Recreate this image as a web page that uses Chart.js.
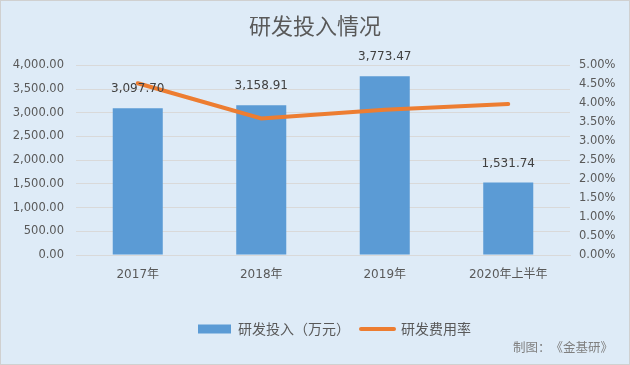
<!DOCTYPE html>
<html><head><meta charset="utf-8">
<script src="https://cdn.jsdelivr.net/npm/chart.js@4"></script>
<style>html,body{margin:0;padding:0;background:#DEEBF7}#wrap{width:630px;height:365px;position:relative}canvas{display:block}</style>
</head><body><div id="wrap"><canvas id="c" width="630" height="365"></canvas></div>
<script>
const chartTitle = '研发投入情况';
const creditParts = ['制图：', '《金基研》'];
const categories = ['2017年', '2018年', '2019年', '2020年上半年'];
const seriesNames = ['研发投入（万元）', '研发费用率'];
const rdInvestment = [3097.70, 3158.91, 3773.47, 1531.74];
const rdExpenseRate = [4.53, 3.60, 3.83, 3.98];
const leftTicks = [0, 500, 1000, 1500, 2000, 2500, 3000, 3500, 4000];
const rightTicks = [0, 0.5, 1, 1.5, 2, 2.5, 3, 3.5, 4, 4.5, 5];

const NUM_FONT = '"DejaVu Sans", "Noto Sans CJK SC", sans-serif';
const CJK_FONT = '"Noto Sans CJK SC", "DejaVu Sans", sans-serif';
const BAR_COLOR = '#5B9BD5';
const LINE_COLOR = '#ED7D31';
const TEXT_COLOR = '#595959';

function fmt(v) {
  const parts = v.toFixed(2).split('.');
  return parts[0].replace(/\B(?=(\d{3})+(?!\d))/g, ',') + '.' + parts[1];
}

const bgPlugin = {
  id: 'bg',
  beforeDraw(chart) {
    const ctx = chart.ctx;
    ctx.save();
    ctx.fillStyle = '#DEEBF7';
    ctx.fillRect(0, 0, chart.width, chart.height);
    ctx.strokeStyle = '#D0D0D0';
    ctx.lineWidth = 1;
    ctx.strokeRect(0.5, 0.5, chart.width - 1, chart.height - 1);
    ctx.restore();
  },
  afterDraw(chart) {
    const ctx = chart.ctx;
    ctx.save();
    ctx.font = '12.5px ' + CJK_FONT;
    ctx.fillStyle = '#7F7F7F';
    ctx.textAlign = 'left';
    ctx.textBaseline = 'middle';
    ctx.fillText(creditParts[0], 513, 347);
    ctx.fillText(creditParts[1], 550.5, 347);
    ctx.restore();
  }
};

const labelPlugin = {
  id: 'dataLabels',
  afterDatasetsDraw(chart) {
    const meta = chart.getDatasetMeta(0);
    const ctx = chart.ctx;
    ctx.save();
    ctx.font = '12px ' + NUM_FONT;
    ctx.fillStyle = '#404040';
    ctx.textAlign = 'center';
    ctx.textBaseline = 'middle';
    meta.data.forEach((el, i) => {
      ctx.fillText(fmt(rdInvestment[i]), el.x, el.y - 19);
    });
    ctx.restore();
  }
};

const legendShift = {
  id: 'legendShift',
  afterLayout(chart) {
    if (chart.legend) {
      chart.legend.left += 19.5;
      chart.legend.right += 19.5;
    }
  }
};

new Chart(document.getElementById('c'), {
  data: {
    labels: categories,
    datasets: [
      {
        type: 'bar',
        label: seriesNames[0],
        data: rdInvestment,
        backgroundColor: BAR_COLOR,
        yAxisID: 'yL',
        barPercentage: 0.405,
        categoryPercentage: 1,
        order: 2
      },
      {
        type: 'line',
        label: seriesNames[1],
        data: rdExpenseRate,
        borderColor: LINE_COLOR,
        backgroundColor: LINE_COLOR,
        borderWidth: 4,
        borderCapStyle: 'round',
        pointRadius: 0,
        tension: 0,
        yAxisID: 'yR',
        order: 1
      }
    ]
  },
  options: {
    responsive: false,
    animation: false,
    devicePixelRatio: 1,
    layout: { padding: { left: 0, right: 0, top: 0, bottom: 19 } },
    plugins: {
      tooltip: { enabled: false },
      title: {
        display: true,
        text: chartTitle,
        color: TEXT_COLOR,
        font: { family: CJK_FONT, size: 22, weight: 'normal' },
        padding: { top: 12.5, bottom: 26.5 }
      },
      legend: {
        position: 'bottom',
        labels: {
          font: { family: CJK_FONT, size: 14 },
          color: TEXT_COLOR,
          usePointStyle: true,
          pointStyleWidth: 33,
          boxHeight: 9,
          padding: 11,
          generateLabels: () => [
            { text: seriesNames[0], fillStyle: BAR_COLOR, strokeStyle: BAR_COLOR, lineWidth: 0, pointStyle: 'rect', datasetIndex: 0, fontColor: TEXT_COLOR },
            { text: seriesNames[1], fillStyle: LINE_COLOR, strokeStyle: LINE_COLOR, lineWidth: 4, lineCap: 'round', pointStyle: 'line', datasetIndex: 1, fontColor: TEXT_COLOR }
          ]
        }
      }
    },
    scales: {
      x: {
        grid: { display: false, drawTicks: false },
        border: { display: true, color: '#D9D9D9' },
        ticks: { color: TEXT_COLOR, font: { family: NUM_FONT, size: 12 }, padding: 13, maxRotation: 0 },
        afterFit(s) { s.height = 56; }
      },
      yL: {
        position: 'left',
        min: 0, max: 4000,
        grid: { color: '#D9D9D9', drawTicks: false },
        border: { display: false },
        ticks: { color: TEXT_COLOR, font: { family: NUM_FONT, size: 11.5 }, padding: 12, callback: v => fmt(v) },
        afterBuildTicks(s) { s.ticks = leftTicks.map(v => ({ value: v })); },
        afterFit(s) { s.width = 76; }
      },
      yR: {
        position: 'right',
        min: 0, max: 5,
        grid: { display: false, drawTicks: false },
        border: { display: false },
        ticks: { color: TEXT_COLOR, font: { family: NUM_FONT, size: 11.5 }, padding: 9, callback: v => v.toFixed(2) + '%' },
        afterBuildTicks(s) { s.ticks = rightTicks.map(v => ({ value: v })); },
        afterFit(s) { s.width = 60; }
      }
    }
  },
  plugins: [bgPlugin, labelPlugin, legendShift]
});
</script>
</body></html>
